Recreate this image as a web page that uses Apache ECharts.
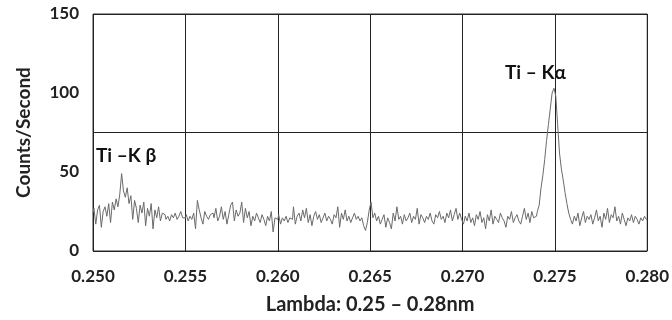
<!DOCTYPE html>
<html lang="en">
<head>
    <meta charset="UTF-8">
    <title>Ti spectrum</title>
    <script src="https://cdn.jsdelivr.net/npm/echarts@6/dist/echarts.min.js"></script>
    <style>
        html, body { margin: 0; padding: 0; background: #fff; }
        #chart { width: 672px; height: 320px; }
    </style>
</head>
<body>
<div id="chart"></div>
<script type="text/javascript">
    // wavelength sampling (nm)
    var lambdaStart = 0.2500;
    var lambdaStep = 0.0001;

    // counts per second, 0.0001 nm apart
    var counts = [
        // 0.2500 - 0.2549
        24, 27, 17, 26, 29, 15, 25, 28, 22, 30,
        18, 31, 26, 33, 28, 36, 49, 38, 34, 40,
        30, 35, 20, 32, 27, 18, 29, 24, 31, 16,
        27, 22, 30, 14, 26, 21, 28, 19, 24, 23,
        20, 22, 19, 23, 21, 24, 20, 22, 25, 21,
        // 0.2550 - 0.2599
        21, 23, 19, 22, 20, 24, 14, 32, 26, 21,
        17, 25, 22, 20, 23, 24, 21, 27, 19, 22,
        28, 20, 25, 17, 23, 29, 31, 19, 26, 22,
        24, 31, 18, 27, 21, 25, 16, 22, 19, 24,
        21, 18, 23, 20, 16, 22, 19, 25, 12, 21,
        // 0.2600 - 0.2649
        20, 23, 17, 21, 19, 22, 18, 21, 20, 28,
        17, 22, 24, 19, 26, 21, 27, 18, 23, 16,
        22, 25, 20, 23, 18, 21, 24, 19, 22, 20,
        17, 23, 21, 28, 15, 24, 20, 26, 19, 22,
        18, 21, 24, 20, 22, 19, 21, 16, 13, 18,
        // 0.2650 - 0.2699
        26, 31, 21, 24, 19, 22, 17, 20, 23, 15,
        21, 18, 14, 24, 19, 28, 20, 22, 17, 23,
        19, 21, 24, 18, 22, 20, 27, 17, 23, 21,
        18, 22, 20, 24, 19, 17, 23, 21, 25, 20,
        22, 18, 24, 21, 26, 19, 23, 27, 20, 24,
        // 0.2700 - 0.2749
        20, 17, 22, 19, 24, 18, 21, 16, 23, 20,
        25, 18, 21, 14, 23, 19, 26, 17, 22, 20,
        18, 24, 21, 19, 15, 22, 20, 25, 18, 21,
        23, 19, 17, 22, 27, 20, 24, 18, 25, 21,
        22, 25, 29, 40, 48, 58, 70, 80, 90, 100,
        // 0.2750 - 0.2800
        103, 98, 80, 62, 52, 45, 37, 30, 24, 20,
        17, 22, 19, 24, 16, 21, 25, 18, 22, 20,
        23, 17, 21, 26, 19, 22, 15, 24, 20, 27,
        18, 23, 21, 28, 19, 22, 17, 24, 20, 16,
        21, 19, 23, 18, 22, 20, 17, 21, 19, 22,
        20
    ];

    var peakLabels = ['Ti \u2013K \u03b2', 'Ti \u2013 K\u03b1'];

    var points = [];
    for (var i = 0; i < counts.length; i++) {
        points.push([+(lambdaStart + i * lambdaStep).toFixed(4), counts[i]]);
    }

    var chart = echarts.init(document.getElementById('chart'));
    var fontFam = 'Lato, "DejaVu Sans", sans-serif';

    chart.setOption({
        animation: false,
        grid: {
            left: 93, right: 23, top: 14, bottom: 67,
            show: true,
            borderColor: '#333',
            borderWidth: 1
        },
        xAxis: {
            type: 'value',
            min: 0.25,
            max: 0.28,
            interval: 0.005,
            axisLine: { show: false },
            axisTick: { show: false },
            splitLine: { show: true, lineStyle: { color: '#222', width: 1 } },
            axisLabel: {
                margin: 17,
                fontFamily: fontFam,
                fontWeight: 'bold',
                fontSize: 17,
                color: '#222'
                ,
                formatter: function (v) { return v.toFixed(3); }
            },
            name: 'Lambda: 0.25 \u2013 0.28nm',
            nameLocation: 'middle',
            nameGap: 44,
            nameTextStyle: { fontFamily: fontFam, fontWeight: 'bold', fontSize: 20, color: '#222' }
        },
        yAxis: [
            {
                type: 'value',
                min: 0,
                max: 150,
                interval: 50,
                axisLine: { show: false },
                axisTick: { show: false },
                splitLine: { show: false },
                axisLabel: {
                    margin: 14,
                    fontFamily: fontFam,
                    fontWeight: 'bold',
                    fontSize: 17,
                    color: '#222'
                },
                name: 'Counts/Second',
                nameLocation: 'middle',
                nameGap: 60,
                nameTextStyle: { fontFamily: fontFam, fontWeight: 'bold', fontSize: 19, color: '#222' }
            },
            {
                // only the middle gridline at 75
                type: 'value',
                min: 0,
                max: 150,
                interval: 75,
                axisLine: { show: false },
                axisTick: { show: false },
                axisLabel: { show: false },
                splitLine: { show: true, lineStyle: { color: '#222', width: 1 } }
            }
        ],
        series: [
            {
                type: 'line',
                data: points,
                showSymbol: false,
                step: 'middle',
                lineStyle: { color: '#6a6a6a', width: 1 },
                silent: true
            }
        ],
        graphic: [
            {
                type: 'text',
                left: 96,
                top: 146,
                style: {
                    text: peakLabels[0],
                    font: 'bold 19px ' + fontFam,
                    fill: '#111',
                    backgroundColor: '#fff'
                }
            },
            {
                type: 'text',
                left: 503,
                top: 62,
                style: {
                    text: peakLabels[1],
                    font: 'bold 19px ' + fontFam,
                    fill: '#111',
                    backgroundColor: '#fff',
                    padding: [1, 2]
                }
            }
        ]
    });
</script>
</body>
</html>
